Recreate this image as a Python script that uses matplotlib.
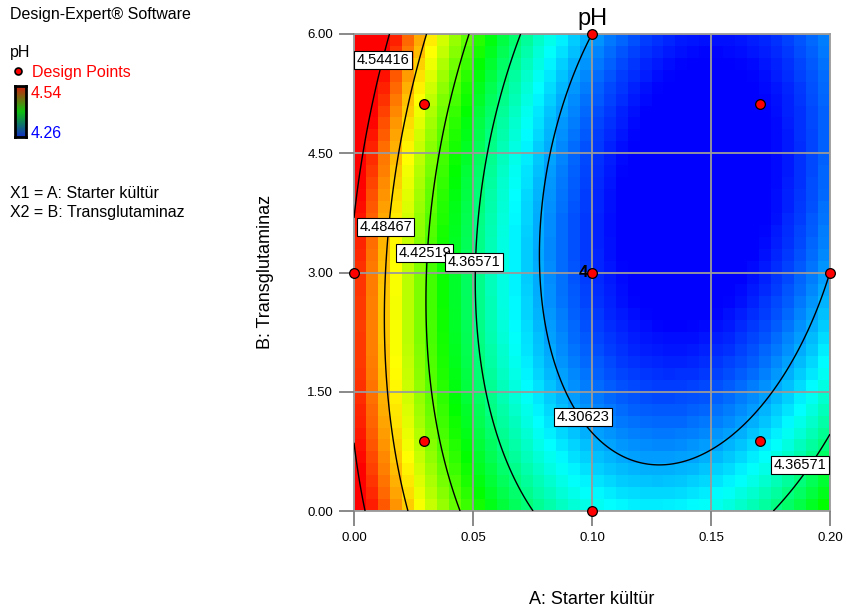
import numpy as np
import matplotlib.pyplot as plt
from matplotlib.colors import LinearSegmentedColormap

plt.rcParams['font.family'] = ['Liberation Sans', 'DejaVu Sans']

# fitted quadratic model, coded factors (-1..1)
# terms: intercept, A, B, AB, A^2, B^2
coefs = [4.2739, -0.1150, -0.01585, -0.0392, 0.1474, 0.04815]

a_lo, a_hi = 0.0, 0.2
b_lo, b_hi = 0.0, 6.0
ph_lo, ph_hi = 4.26, 4.54

# design points (central composite), centre point run 4 times
design_a = [0.0, 0.0293, 0.0293, 0.1, 0.1, 0.1, 0.1707, 0.1707, 0.2]
design_b = [3.0, 0.879, 5.121, 0.0, 3.0, 6.0, 0.879, 5.121, 3.0]
center_runs = 4

levels = [4.30623, 4.36571, 4.42519, 4.48467, 4.54416]

# where each contour value is written
label_level = [4.54416, 4.48467, 4.42519, 4.36571, 4.30623, 4.36571]
label_a = [0.0122, 0.0134, 0.0298, 0.0504, 0.0962, 0.1874]
label_b = [5.67, 3.57, 3.245, 3.13, 1.18, 0.58]

xticks = [0.0, 0.05, 0.10, 0.15, 0.20]
yticks = [0.0, 1.5, 3.0, 4.5, 6.0]


def model(a, b):
    x = (a - 0.1) / 0.1
    y = (b - 3.0) / 3.0
    c = coefs
    return c[0] + c[1]*x + c[2]*y + c[3]*x*y + c[4]*x**2 + c[5]*y**2


W, H = 846, 616
fig = plt.figure(figsize=(W/100, H/100), dpi=100)
ax = fig.add_axes([354/W, 1 - 511/H, 476/W, 477/H])

cmap = LinearSegmentedColormap.from_list(
    'de', ['#0000ff', '#00ffff', '#00ff00', '#ffff00', '#ff0000'])

# coarse colour cells
n = 40
ae = np.linspace(a_lo, a_hi, n + 1)
be = np.linspace(b_lo, b_hi, n + 1)
ac = (ae[:-1] + ae[1:]) / 2
bc = (be[:-1] + be[1:]) / 2
AC, BC = np.meshgrid(ac, bc)
ax.pcolormesh(ae, be, model(AC, BC), cmap=cmap, vmin=ph_lo, vmax=ph_hi,
              shading='flat', zorder=0)

# contour lines on a fine grid
af = np.linspace(a_lo, a_hi, 300)
bf = np.linspace(b_lo, b_hi, 300)
AF, BF = np.meshgrid(af, bf)
ax.contour(AF, BF, model(AF, BF), levels=levels, colors='black',
           linewidths=1.0, zorder=3)

for lv, la, lb in zip(label_level, label_a, label_b):
    ax.text(la, lb, f'{lv:.5f}', ha='center', va='center', fontsize=10.5,
            zorder=5, bbox=dict(boxstyle='square,pad=0.15', fc='white',
                                ec='black', lw=0.8))

ax.plot(design_a, design_b, 'o', ms=7, mfc='#ff0000', mec='black', mew=0.9,
        clip_on=False, zorder=6)
ax.annotate(str(center_runs), (0.1, 3.0), xytext=(-3, 0),
            textcoords='offset points', ha='right', va='center',
            fontsize=12, fontweight='bold', zorder=6)

ax.set_xlim(a_lo, a_hi)
ax.set_ylim(b_lo, b_hi)
ax.set_xticks(xticks)
ax.set_yticks(yticks)
ax.set_xticklabels([f'{t:.2f}' for t in xticks])
ax.set_yticklabels([f'{t:.2f}' for t in yticks])
ax.tick_params(direction='out', length=11, width=1.3, color='#808080',
               labelsize=9.5, pad=4)
ax.grid(True, color='#9a9a9a', lw=1.3)
ax.set_axisbelow(False)
for s in ax.spines.values():
    s.set_color('#9a9a9a')
    s.set_linewidth(1.3)

fig.text(592/W, 1 - 19/H, 'pH', ha='center', va='center', fontsize=17)
fig.text(592/W, 1 - 600/H, 'A: Starter kültür', ha='center', va='center',
         fontsize=13)
fig.text(265/W, 1 - 272/H, 'B: Transglutaminaz', ha='center', va='center',
         rotation=90, fontsize=13)

# side legend
fig.text(10/W, 1 - 15/H, 'Design-Expert® Software', ha='left', va='center',
         fontsize=11.5)
fig.text(10/W, 1 - 52/H, 'pH', ha='left', va='center', fontsize=11.5)
fig.text(32/W, 1 - 73/H, 'Design Points', ha='left', va='center',
         fontsize=11.5, color='#ff0000')
fig.text(31/W, 1 - 94/H, f'{ph_hi:.2f}', ha='left', va='center',
         fontsize=11.5, color='#ff0000')
fig.text(31/W, 1 - 133/H, f'{ph_lo:.2f}', ha='left', va='center',
         fontsize=11.5, color='#0000ff')
fig.text(10/W, 1 - 193/H, 'X1 = A: Starter kültür', ha='left', va='center',
         fontsize=11.5)
fig.text(10/W, 1 - 213/H, 'X2 = B: Transglutaminaz', ha='left', va='center',
         fontsize=11.5)
fig.lines.append(plt.Line2D([18/W], [1 - 71/H], marker='o', ms=5,
                            mfc='#ff0000', mec='black', mew=1.2,
                            transform=fig.transFigure))

cax = fig.add_axes([15/W, 1 - 137/H, 11/W, 51/H])
bar_cmap = LinearSegmentedColormap.from_list(
    'bar', ['#1030c0', '#10c010', '#d02010'])
cax.imshow(np.linspace(1, 0, 50).reshape(-1, 1), aspect='auto', cmap=bar_cmap)
cax.set_xticks([])
cax.set_yticks([])
for s in cax.spines.values():
    s.set_color('black')
    s.set_linewidth(2)

fig.savefig('out.png', dpi=100)
